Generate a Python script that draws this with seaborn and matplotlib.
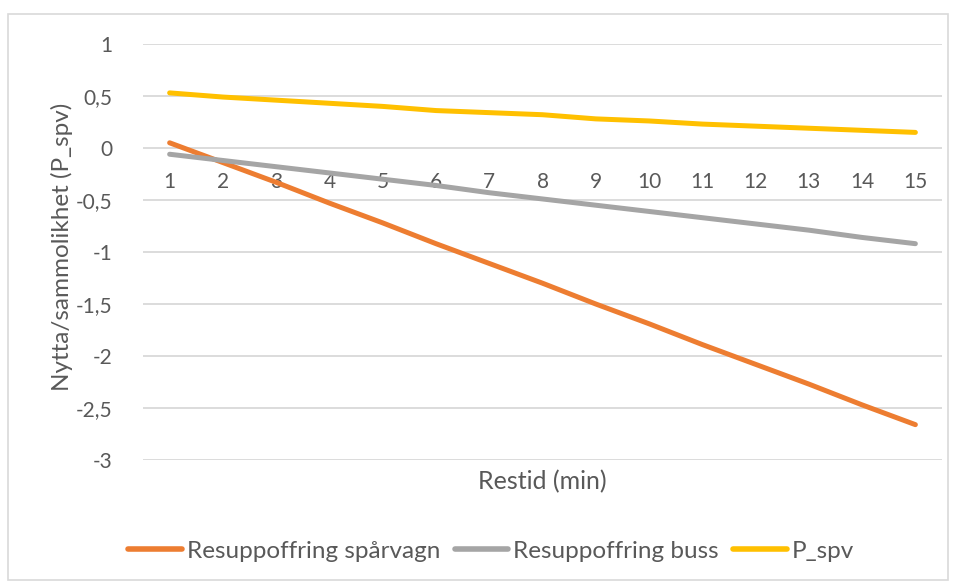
import numpy as np
import pandas as pd
import seaborn as sns
import matplotlib.pyplot as plt
from matplotlib.patches import Rectangle
from matplotlib.ticker import FuncFormatter, MultipleLocator

# data
restid = list(range(1, 16))
spv_values = [0.05, -0.14, -0.33, -0.53, -0.72, -0.92, -1.11, -1.30,
              -1.50, -1.69, -1.89, -2.08, -2.27, -2.47, -2.66]
buss_values = [-0.06, -0.12, -0.18, -0.24, -0.30, -0.36, -0.43, -0.49,
               -0.55, -0.61, -0.67, -0.73, -0.79, -0.86, -0.92]
pspv_values = [0.53, 0.49, 0.46, 0.43, 0.40, 0.36, 0.34, 0.32,
               0.28, 0.26, 0.23, 0.21, 0.19, 0.17, 0.15]
series_names = ['Resuppoffring spårvagn', 'Resuppoffring buss', 'P_spv']
colors = ['#ED7D31', '#A5A5A5', '#FFC000']

df = pd.DataFrame({
    'Restid': restid * 3,
    'value': spv_values + buss_values + pspv_values,
    'serie': sum([[n] * len(restid) for n in series_names], []),
})

sns.set_style('white')
plt.rcParams['font.family'] = ['Lato', 'DejaVu Sans']
text_col = '#595959'

fig = plt.figure(figsize=(9.56, 5.84), dpi=100)
W, H = 956, 584
ax = fig.add_axes([143 / W, 1 - 460 / H, (942 - 143) / W, (460 - 44) / H])

sns.lineplot(data=df, x='Restid', y='value', hue='serie', hue_order=series_names,
             palette=colors, linewidth=3.6, ax=ax, legend=True,
             solid_capstyle='round')

ax.set_xlim(0.5, 15.5)
ax.set_ylim(-3, 1)
ax.yaxis.set_major_locator(MultipleLocator(0.5))
ax.set_xticks(restid)
ax.yaxis.set_major_formatter(FuncFormatter(
    lambda v, p: ('%g' % v).replace('.', ',')))
ax.grid(axis='y', color='#D9D9D9', linewidth=1.3)
ax.grid(axis='x', visible=False)
ax.set_axisbelow(True)
for s in ax.spines.values():
    s.set_visible(False)
ax.spines['bottom'].set_position(('data', 0))
ax.tick_params(axis='x', length=0, pad=17, labelsize=15, labelcolor=text_col)
ax.tick_params(axis='y', length=0, pad=22, labelsize=15, labelcolor=text_col)
ax.set_xlabel('')
ax.set_ylabel('')

fig.text(62 / W, 1 - 247 / H, 'Nytta/sammolikhet (P_spv)', rotation=90,
         ha='center', va='center', fontsize=17.5, color=text_col)
fig.text(542 / W, 1 - 482 / H, 'Restid (min)', ha='center', va='center',
         fontsize=18, color=text_col)

handles, labels = ax.get_legend_handles_labels()
ax.get_legend().remove()
leg = fig.legend(handles, labels, loc='center', bbox_to_anchor=(491 / W, 1 - 551 / H),
                 ncol=3, frameon=False, fontsize=17.5, handlelength=2.2,
                 handletextpad=0.2, columnspacing=0.6, labelcolor=text_col)
for h in leg.get_lines():
    h.set_linewidth(4)

fig.patches.append(Rectangle((8 / W, 1 - 580 / H), (948 - 8) / W, (580 - 14) / H,
                             transform=fig.transFigure, fill=False,
                             edgecolor='#D9D9D9', linewidth=1.2))

fig.savefig('out.png', dpi=100)
